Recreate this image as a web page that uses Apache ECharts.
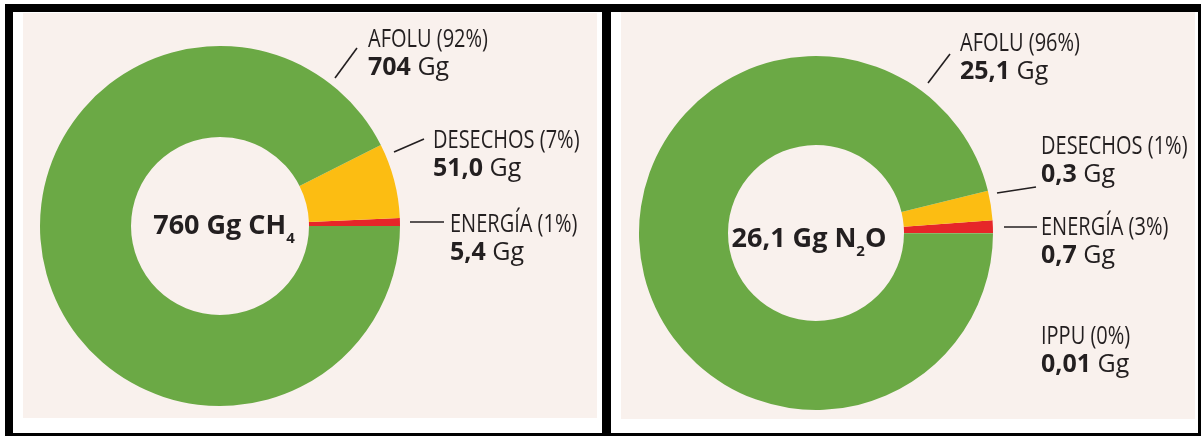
<!DOCTYPE html>
<html>
<head>
<meta charset="utf-8">
<title>Emisiones CH4 y N2O por sector</title>
<script src="https://cdn.jsdelivr.net/npm/echarts@6/dist/echarts.min.js"></script>
<style>
  html, body { margin: 0; padding: 0; background: #fff; }
  #main { width: 1201px; height: 436px; }
</style>
</head>
<body>
<div id="main"></div>
<script>
// CH4 — slices run counter-clockwise from 3 o'clock
const ch4Sectors = ['ENERGÍA', 'DESECHOS', 'AFOLU'];
const ch4Values = [5.4, 51.0, 704];
const ch4Pct = ['1%', '7%', '92%'];
const ch4Gg = ['5,4', '51,0', '704'];
const ch4Total = '760';

// N2O — arc sizes as they are drawn in the figure (red thinner than yellow)
const n2oSectors = ['ENERGÍA', 'DESECHOS', 'AFOLU', 'IPPU'];
const n2oValues = [0.3, 0.7, 25.1, 0.01];
const n2oPct = ['3%', '1%', '96%', '0%'];
const n2oGg = ['0,7', '0,3', '25,1', '0,01'];
const n2oTotal = '26,1';

const colors = { 'ENERGÍA': '#e62629', 'DESECHOS': '#fcbd12', 'AFOLU': '#6ba945', 'IPPU': '#6ba945' };
const ink = '#231f20';
const beige = '#f9f1ed';
const sans = "'Open Sans', 'Noto Sans', sans-serif";
const NARROW = 0.8; // no condensed face installed, squeeze the sector names instead

// label block top-left + leader line, same order as the data
const ch4Labels = [
  { x: 450, y: 211, line: [[410, 222], [444, 222]] },
  { x: 433, y: 127, line: [[394, 152], [424, 139]] },
  { x: 368, y: 26, line: [[335, 78], [357, 48]] }
];
const n2oLabels = [
  { x: 1041, y: 214, line: [[1004, 227], [1037, 227]] },
  { x: 1041, y: 133, line: [[997, 193], [1036, 187]] },
  { x: 960, y: 30, line: [[928, 83], [950, 54]] },
  { x: 1041, y: 323, line: null }
];

function makePie(names, values, gg, places, center, radius) {
  return {
    type: 'pie',
    center: center,
    radius: radius,
    startAngle: 0,
    clockwise: false,
    avoidLabelOverlap: false,
    silent: true,
    emphasis: { disabled: true },
    itemStyle: { borderWidth: 0 },
    label: {
      show: true,
      position: 'outside',
      formatter: (p) => `{b|${gg[p.dataIndex]}}{c| Gg}`,
      rich: {
        b: { fontFamily: sans, fontSize: 25, fontWeight: 'bold', color: ink, lineHeight: 28 },
        c: { fontFamily: sans, fontSize: 25, color: ink, lineHeight: 28 }
      }
    },
    labelLine: { show: true, length: 10, length2: 10, lineStyle: { color: ink, width: 1.6 } },
    labelLayout: (params) => {
      const pl = places[params.dataIndex];
      const out = { x: pl.x, y: pl.y + 28, align: 'left', verticalAlign: 'top' };
      if (pl.line) out.labelLinePoints = [pl.line[0], pl.line[1], pl.line[1]];
      return out;
    },
    data: names.map((n, i) => ({
      name: n,
      value: values[i],
      itemStyle: { color: colors[n] },
      labelLine: { show: !!places[i].line }
    }))
  };
}

// first label line: "SECTOR (xx%)"
function sectorTexts(names, pct, places) {
  return names.map((n, i) => ({
    type: 'text', z: 50,
    x: places[i].x, y: places[i].y + 14,
    scaleX: NARROW,
    style: {
      text: `${n} (${pct[i]})`,
      fontFamily: sans, fontSize: 25, fill: ink,
      align: 'left', verticalAlign: 'middle'
    }
  }));
}

function centerText(text, x, y) {
  return {
    type: 'text', z: 50, x: x, y: y,
    style: {
      text: text,
      align: 'center', verticalAlign: 'middle',
      rich: {
        m: { fontFamily: sans, fontSize: 27, fontWeight: 'bold', fill: ink, lineHeight: 30, verticalAlign: 'middle' },
        s: { fontFamily: sans, fontSize: 15, fontWeight: 'bold', fill: ink, lineHeight: 40, verticalAlign: 'bottom' }
      }
    }
  };
}

const chart = echarts.init(document.getElementById('main'));
chart.setOption({
  backgroundColor: '#ffffff',
  animation: false,
  graphic: [
    { type: 'rect', z: -10, shape: { x: 5, y: 4, width: 1196, height: 432 }, style: { fill: '#000' } },
    { type: 'rect', z: -9, shape: { x: 13, y: 12, width: 589, height: 421 }, style: { fill: '#fff' } },
    { type: 'rect', z: -9, shape: { x: 611, y: 12, width: 587, height: 421 }, style: { fill: '#fff' } },
    { type: 'rect', z: -8, shape: { x: 23, y: 13, width: 574, height: 405 }, style: { fill: beige } },
    { type: 'rect', z: -8, shape: { x: 621, y: 12, width: 574, height: 407 }, style: { fill: beige } },
    centerText(`{m|${ch4Total} Gg CH}{s|4}`, 224, 226),
    centerText(`{m|${n2oTotal} Gg N}{s|2}{m|O}`, 809, 239),
    ...sectorTexts(ch4Sectors, ch4Pct, ch4Labels),
    ...sectorTexts(n2oSectors, n2oPct, n2oLabels)
  ],
  series: [
    makePie(ch4Sectors, ch4Values, ch4Gg, ch4Labels, [220, 226], [89, 180]),
    makePie(n2oSectors, n2oValues, n2oGg, n2oLabels, [816, 233], [88, 177])
  ]
});
</script>
</body>
</html>
